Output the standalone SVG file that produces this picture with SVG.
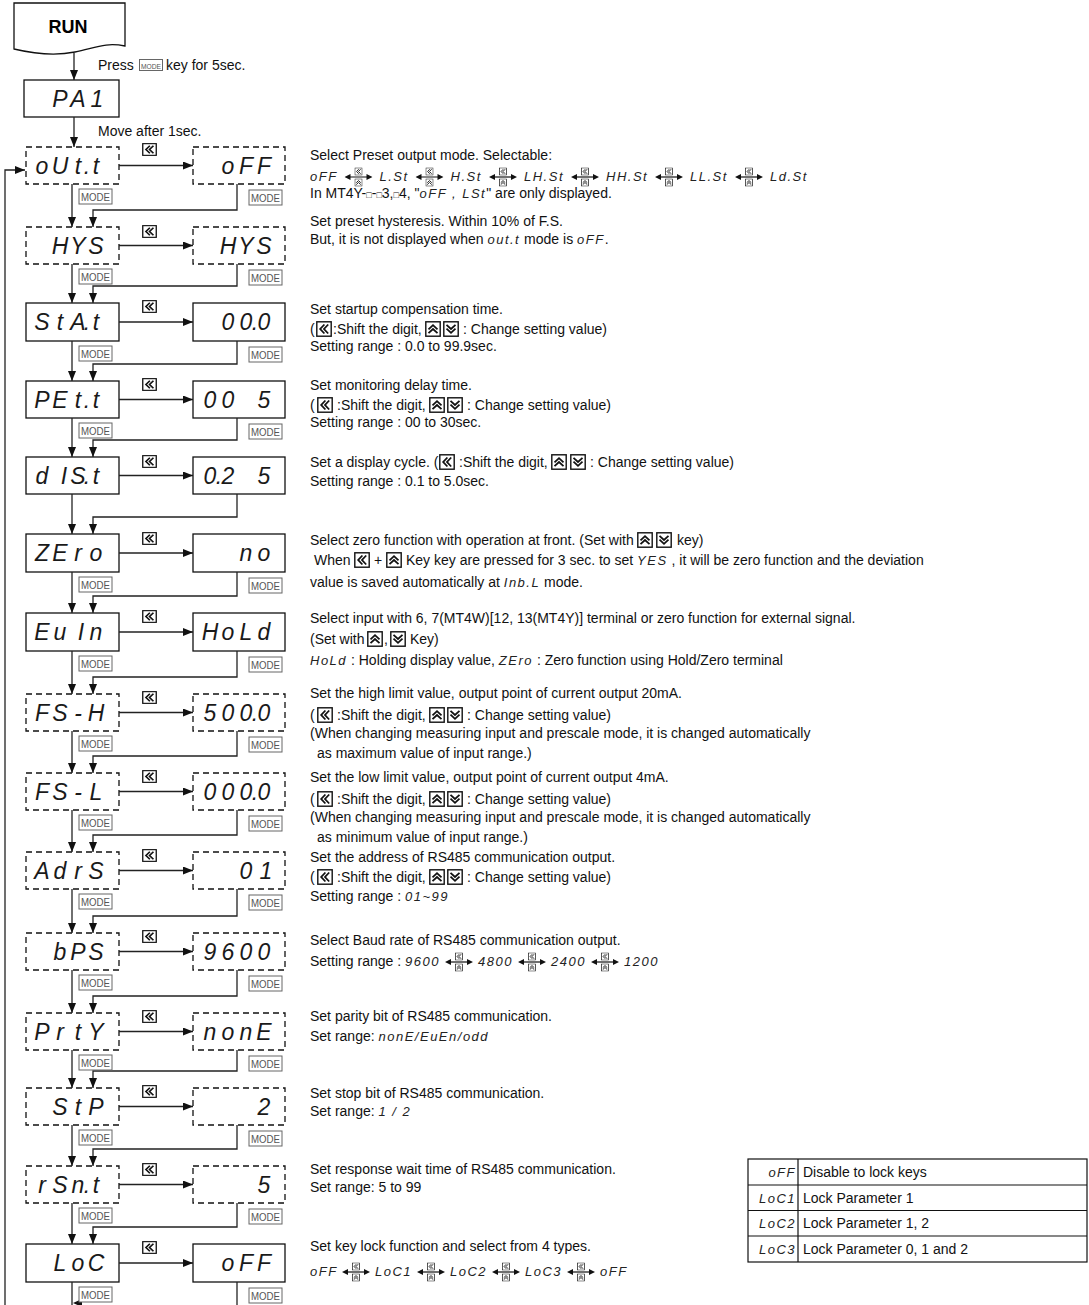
<svg xmlns="http://www.w3.org/2000/svg" width="1089" height="1305" viewBox="0 0 1089 1305">
<style>
.t{font-family:"Liberation Sans",Arial,sans-serif;font-size:14px;fill:#111}
.s{font-family:"Liberation Sans",Arial,sans-serif;font-style:italic;font-size:13px;letter-spacing:1.5px;fill:#222}
.sq{font-size:9px}
.d{font-family:"Liberation Sans",Arial,sans-serif;font-style:italic;font-size:23px;fill:#1a1a1a;text-anchor:middle}
.bx{fill:#fff;stroke:#111;stroke-width:1.3}
.dx{fill:#fff;stroke:#111;stroke-width:1.3;stroke-dasharray:6 4}
.mk rect{fill:#fff;stroke:#666;stroke-width:1}
.mk text{font-family:"Liberation Sans Narrow","Liberation Sans",Arial,sans-serif;font-size:10px;fill:#555;text-anchor:middle}
.cn{fill:none;stroke:#222;stroke-width:1.3}
.tb{fill:none;stroke:#111;stroke-width:1.2}
</style>
<defs>
<marker id="ah" viewBox="0 0 10 8" refX="10" refY="4" markerWidth="10" markerHeight="8" markerUnits="userSpaceOnUse" orient="auto"><path d="M0,0 L10,4 L0,8 Z" fill="#111"/></marker>
<symbol id="kL" viewBox="0 0 16 16" preserveAspectRatio="none"><rect x="0.8" y="0.8" width="14.4" height="14.4" fill="#fff" stroke="#111" stroke-width="1.4"/><path d="M8.4 3.5 L4.2 8 L8.4 12.5 M12.2 3.5 L8 8 L12.2 12.5" fill="none" stroke="#111" stroke-width="1.8"/></symbol>
<symbol id="kU" viewBox="0 0 16 16" preserveAspectRatio="none"><rect x="0.8" y="0.8" width="14.4" height="14.4" fill="#fff" stroke="#111" stroke-width="1.4"/><path d="M3.5 8.4 L8 4.2 L12.5 8.4 M3.5 12.2 L8 8 L12.5 12.2" fill="none" stroke="#111" stroke-width="1.8"/></symbol>
<symbol id="kD" viewBox="0 0 16 16" preserveAspectRatio="none"><rect x="0.8" y="0.8" width="14.4" height="14.4" fill="#fff" stroke="#111" stroke-width="1.4"/><path d="M3.5 3.8 L8 8 L12.5 3.8 M3.5 7.6 L8 11.8 L12.5 7.6" fill="none" stroke="#111" stroke-width="1.8"/></symbol>
<symbol id="sw" viewBox="0 0 28 20"><path d="M5 10 H23" stroke="#111" stroke-width="1.2"/><path d="M0 10 L6 7 L6 13 Z M28 10 L22 7 L22 13 Z" fill="#111"/><use href="#kL" x="10" y="0.5" width="8" height="8"/><use href="#kU" x="10" y="11.5" width="8" height="8"/></symbol>
</defs>
<rect width="1089" height="1305" fill="#fff"/>

<g id="n-run"><path class="bx" d="M14,3 H125 V46 C105,42 95,48 75,52 C55,56 35,54 14,49 Z"/><text x="68" y="33" style="font-family:'Liberation Sans',Arial,sans-serif;font-size:18px;font-weight:bold;text-anchor:middle">RUN</text></g>
<g id="n-pa1"><rect class="bx" x="24" y="80" width="95" height="37"/><text class="d" x="60 78 97" y="107">PA1</text></g>

<g id="n-outt"><rect class="dx" x="26" y="147" width="93" height="37"/><text class="d" x="42 60 78 87 96" y="174">oUt.t</text></g>
<g id="n-outt-v"><rect class="dx" x="193" y="147" width="92" height="37"/><text class="d" x="228 246 264" y="174">oFF</text></g>
<g id="n-hys"><rect class="dx" x="26" y="227" width="93" height="37"/><text class="d" x="60 78 96" y="254">HYS</text></g>
<g id="n-hys-v"><rect class="dx" x="193" y="227" width="92" height="37"/><text class="d" x="228 246 264" y="254">HYS</text></g>
<g id="n-stat"><rect class="bx" x="26" y="303" width="93" height="38"/><text class="d" x="42 60 78 87 96" y="330">StA.t</text></g>
<g id="n-stat-v"><rect class="bx" x="193" y="303" width="92" height="38"/><text class="d" x="228 246 255 264" y="330">00.0</text></g>
<g id="n-pett"><rect class="bx" x="26" y="381" width="93" height="37"/><text class="d" x="42 60 78 87 96" y="408">PEt.t</text></g>
<g id="n-pett-v"><rect class="bx" x="193" y="381" width="92" height="37"/><text class="d" x="210 228 246 264" y="408">00 5</text></g>
<g id="n-dist"><rect class="bx" x="26" y="457" width="93" height="37"/><text class="d" x="42 52 64 78 87 96" y="484">d IS.t</text></g>
<g id="n-dist-v"><rect class="bx" x="193" y="457" width="92" height="37"/><text class="d" x="210 219 228 246 264" y="484">0.2 5</text></g>
<g id="n-zero"><rect class="bx" x="26" y="534" width="93" height="38"/><text class="d" x="42 60 78 96" y="561">ZEro</text></g>
<g id="n-zero-v"><rect class="bx" x="193" y="534" width="92" height="38"/><text class="d" x="246 264" y="561">no</text></g>
<g id="n-euin"><rect class="bx" x="26" y="613" width="93" height="38"/><text class="d" x="42 60 70 81 96" y="640">Eu In</text></g>
<g id="n-euin-v"><rect class="bx" x="193" y="613" width="92" height="38"/><text class="d" x="210 228 246 264" y="640">HoLd</text></g>
<g id="n-fsh"><rect class="dx" x="26" y="694" width="93" height="37"/><text class="d" x="42 60 78 96" y="721">FS-H</text></g>
<g id="n-fsh-v"><rect class="dx" x="193" y="694" width="92" height="37"/><text class="d" x="210 228 246 255 264" y="721">500.0</text></g>
<g id="n-fsl"><rect class="dx" x="26" y="773" width="93" height="37"/><text class="d" x="42 60 78 96" y="800">FS-L</text></g>
<g id="n-fsl-v"><rect class="dx" x="193" y="773" width="92" height="37"/><text class="d" x="210 228 246 255 264" y="800">000.0</text></g>
<g id="n-adrs"><rect class="dx" x="26" y="852" width="93" height="37"/><text class="d" x="42 60 78 96" y="879">AdrS</text></g>
<g id="n-adrs-v"><rect class="dx" x="193" y="852" width="92" height="37"/><text class="d" x="246 266" y="879">01</text></g>
<g id="n-bps"><rect class="dx" x="26" y="933" width="93" height="37"/><text class="d" x="60 78 96" y="960">bPS</text></g>
<g id="n-bps-v"><rect class="dx" x="193" y="933" width="92" height="37"/><text class="d" x="210 228 246 264" y="960">9600</text></g>
<g id="n-prty"><rect class="dx" x="26" y="1013" width="93" height="37"/><text class="d" x="42 60 78 96" y="1040">PrtY</text></g>
<g id="n-prty-v"><rect class="dx" x="193" y="1013" width="92" height="37"/><text class="d" x="210 228 246 264" y="1040">nonE</text></g>
<g id="n-stp"><rect class="dx" x="26" y="1088" width="93" height="37"/><text class="d" x="60 78 96" y="1115">StP</text></g>
<g id="n-stp-v"><rect class="dx" x="193" y="1088" width="92" height="37"/><text class="d" x="264" y="1115">2</text></g>
<g id="n-rsnt"><rect class="dx" x="26" y="1166" width="93" height="37"/><text class="d" x="42 60 78 87 96" y="1193">rSn.t</text></g>
<g id="n-rsnt-v"><rect class="dx" x="193" y="1166" width="92" height="37"/><text class="d" x="264" y="1193">5</text></g>
<g id="n-loc"><rect class="bx" x="26" y="1244" width="93" height="38"/><text class="d" x="60 78 96" y="1271">LoC</text></g>
<g id="n-loc-v"><rect class="bx" x="193" y="1244" width="92" height="38"/><text class="d" x="228 246 264" y="1271">oFF</text></g>

<g id="connectors">
<path class="cn" d="M74,53 V80" marker-end="url(#ah)"/>
<path class="cn" d="M74,117 V147" marker-end="url(#ah)"/>
<path class="cn" d="M5,1305 V170 H25" marker-end="url(#ah)"/>
<path class="cn" d="M119,165.5 H193" marker-end="url(#ah)"/>
<path class="cn" d="M119,245.5 H193" marker-end="url(#ah)"/>
<path class="cn" d="M119,322 H193" marker-end="url(#ah)"/>
<path class="cn" d="M119,399.5 H193" marker-end="url(#ah)"/>
<path class="cn" d="M119,475.5 H193" marker-end="url(#ah)"/>
<path class="cn" d="M119,553 H193" marker-end="url(#ah)"/>
<path class="cn" d="M119,632 H193" marker-end="url(#ah)"/>
<path class="cn" d="M119,712.5 H193" marker-end="url(#ah)"/>
<path class="cn" d="M119,791.5 H193" marker-end="url(#ah)"/>
<path class="cn" d="M119,870.5 H193" marker-end="url(#ah)"/>
<path class="cn" d="M119,951.5 H193" marker-end="url(#ah)"/>
<path class="cn" d="M119,1031.5 H193" marker-end="url(#ah)"/>
<path class="cn" d="M119,1106.5 H193" marker-end="url(#ah)"/>
<path class="cn" d="M119,1184.5 H193" marker-end="url(#ah)"/>
<path class="cn" d="M119,1263 H193" marker-end="url(#ah)"/>
<path class="cn" d="M72,184 V227" marker-end="url(#ah)"/>
<path class="cn" d="M72,264 V303" marker-end="url(#ah)"/>
<path class="cn" d="M72,341 V381" marker-end="url(#ah)"/>
<path class="cn" d="M72,418 V457" marker-end="url(#ah)"/>
<path class="cn" d="M72,494 V534" marker-end="url(#ah)"/>
<path class="cn" d="M72,572 V613" marker-end="url(#ah)"/>
<path class="cn" d="M72,651 V694" marker-end="url(#ah)"/>
<path class="cn" d="M72,731 V773" marker-end="url(#ah)"/>
<path class="cn" d="M72,810 V852" marker-end="url(#ah)"/>
<path class="cn" d="M72,889 V933" marker-end="url(#ah)"/>
<path class="cn" d="M72,970 V1013" marker-end="url(#ah)"/>
<path class="cn" d="M72,1050 V1088" marker-end="url(#ah)"/>
<path class="cn" d="M72,1125 V1166" marker-end="url(#ah)"/>
<path class="cn" d="M72,1203 V1244" marker-end="url(#ah)"/>
<path class="cn" d="M237,184 V210 H93 V227" marker-end="url(#ah)"/>
<path class="cn" d="M237,264 V286 H93 V303" marker-end="url(#ah)"/>
<path class="cn" d="M237,341 V364 H93 V381" marker-end="url(#ah)"/>
<path class="cn" d="M237,418 V440 H93 V457" marker-end="url(#ah)"/>
<path class="cn" d="M237,494 V517 H93 V534" marker-end="url(#ah)"/>
<path class="cn" d="M237,572 V596 H93 V613" marker-end="url(#ah)"/>
<path class="cn" d="M237,651 V677 H93 V694" marker-end="url(#ah)"/>
<path class="cn" d="M237,731 V756 H93 V773" marker-end="url(#ah)"/>
<path class="cn" d="M237,810 V835 H93 V852" marker-end="url(#ah)"/>
<path class="cn" d="M237,889 V916 H93 V933" marker-end="url(#ah)"/>
<path class="cn" d="M237,970 V996 H93 V1013" marker-end="url(#ah)"/>
<path class="cn" d="M237,1050 V1071 H93 V1088" marker-end="url(#ah)"/>
<path class="cn" d="M237,1125 V1149 H93 V1166" marker-end="url(#ah)"/>
<path class="cn" d="M237,1203 V1227 H93 V1244" marker-end="url(#ah)"/>
<path class="cn" d="M72,1282 V1305"/>
<path class="cn" d="M237,1282 V1305"/>
<path d="M73,1303 L82,1299 L82,1307 Z" fill="#111"/>
</g>

<g id="shift-keys">
<use href="#kL" x="142" y="143" width="15" height="13"/>
<use href="#kL" x="142" y="225" width="15" height="13"/>
<use href="#kL" x="142" y="300" width="15" height="13"/>
<use href="#kL" x="142" y="378" width="15" height="13"/>
<use href="#kL" x="142" y="455" width="15" height="13"/>
<use href="#kL" x="142" y="532" width="15" height="13"/>
<use href="#kL" x="142" y="610" width="15" height="13"/>
<use href="#kL" x="142" y="691" width="15" height="13"/>
<use href="#kL" x="142" y="770" width="15" height="13"/>
<use href="#kL" x="142" y="849" width="15" height="13"/>
<use href="#kL" x="142" y="930" width="15" height="13"/>
<use href="#kL" x="142" y="1010" width="15" height="13"/>
<use href="#kL" x="142" y="1085" width="15" height="13"/>
<use href="#kL" x="142" y="1163" width="15" height="13"/>
<use href="#kL" x="142" y="1241" width="15" height="13"/>
</g>

<g id="mode-keys" class="mk">
<rect x="139.5" y="59.5" width="23" height="11"/><text x="151" y="68.5" style="font-size:8px" textLength="20" lengthAdjust="spacingAndGlyphs">MODE</text>
<rect x="79" y="189" width="33" height="15"/><text x="95.5" y="200.5" textLength="29" lengthAdjust="spacingAndGlyphs">MODE</text>
<rect x="249" y="190" width="33" height="15"/><text x="265.5" y="201.5" textLength="29" lengthAdjust="spacingAndGlyphs">MODE</text>
<rect x="79" y="269" width="33" height="15"/><text x="95.5" y="280.5" textLength="29" lengthAdjust="spacingAndGlyphs">MODE</text>
<rect x="249" y="270" width="33" height="15"/><text x="265.5" y="281.5" textLength="29" lengthAdjust="spacingAndGlyphs">MODE</text>
<rect x="79" y="346" width="33" height="15"/><text x="95.5" y="357.5" textLength="29" lengthAdjust="spacingAndGlyphs">MODE</text>
<rect x="249" y="347" width="33" height="15"/><text x="265.5" y="358.5" textLength="29" lengthAdjust="spacingAndGlyphs">MODE</text>
<rect x="79" y="423" width="33" height="15"/><text x="95.5" y="434.5" textLength="29" lengthAdjust="spacingAndGlyphs">MODE</text>
<rect x="249" y="424" width="33" height="15"/><text x="265.5" y="435.5" textLength="29" lengthAdjust="spacingAndGlyphs">MODE</text>
<rect x="79" y="577" width="33" height="15"/><text x="95.5" y="588.5" textLength="29" lengthAdjust="spacingAndGlyphs">MODE</text>
<rect x="249" y="578" width="33" height="15"/><text x="265.5" y="589.5" textLength="29" lengthAdjust="spacingAndGlyphs">MODE</text>
<rect x="79" y="656" width="33" height="15"/><text x="95.5" y="667.5" textLength="29" lengthAdjust="spacingAndGlyphs">MODE</text>
<rect x="249" y="657" width="33" height="15"/><text x="265.5" y="668.5" textLength="29" lengthAdjust="spacingAndGlyphs">MODE</text>
<rect x="79" y="736" width="33" height="15"/><text x="95.5" y="747.5" textLength="29" lengthAdjust="spacingAndGlyphs">MODE</text>
<rect x="249" y="737" width="33" height="15"/><text x="265.5" y="748.5" textLength="29" lengthAdjust="spacingAndGlyphs">MODE</text>
<rect x="79" y="815" width="33" height="15"/><text x="95.5" y="826.5" textLength="29" lengthAdjust="spacingAndGlyphs">MODE</text>
<rect x="249" y="816" width="33" height="15"/><text x="265.5" y="827.5" textLength="29" lengthAdjust="spacingAndGlyphs">MODE</text>
<rect x="79" y="894" width="33" height="15"/><text x="95.5" y="905.5" textLength="29" lengthAdjust="spacingAndGlyphs">MODE</text>
<rect x="249" y="895" width="33" height="15"/><text x="265.5" y="906.5" textLength="29" lengthAdjust="spacingAndGlyphs">MODE</text>
<rect x="79" y="975" width="33" height="15"/><text x="95.5" y="986.5" textLength="29" lengthAdjust="spacingAndGlyphs">MODE</text>
<rect x="249" y="976" width="33" height="15"/><text x="265.5" y="987.5" textLength="29" lengthAdjust="spacingAndGlyphs">MODE</text>
<rect x="79" y="1055" width="33" height="15"/><text x="95.5" y="1066.5" textLength="29" lengthAdjust="spacingAndGlyphs">MODE</text>
<rect x="249" y="1056" width="33" height="15"/><text x="265.5" y="1067.5" textLength="29" lengthAdjust="spacingAndGlyphs">MODE</text>
<rect x="79" y="1130" width="33" height="15"/><text x="95.5" y="1141.5" textLength="29" lengthAdjust="spacingAndGlyphs">MODE</text>
<rect x="249" y="1131" width="33" height="15"/><text x="265.5" y="1142.5" textLength="29" lengthAdjust="spacingAndGlyphs">MODE</text>
<rect x="79" y="1208" width="33" height="15"/><text x="95.5" y="1219.5" textLength="29" lengthAdjust="spacingAndGlyphs">MODE</text>
<rect x="249" y="1209" width="33" height="15"/><text x="265.5" y="1220.5" textLength="29" lengthAdjust="spacingAndGlyphs">MODE</text>
<rect x="79" y="1287" width="33" height="15"/><text x="95.5" y="1298.5" textLength="29" lengthAdjust="spacingAndGlyphs">MODE</text>
<rect x="249" y="1288" width="33" height="15"/><text x="265.5" y="1299.5" textLength="29" lengthAdjust="spacingAndGlyphs">MODE</text>
</g>

<g id="notes">
<text class="t" x="98" y="70">Press</text>
<text class="t" x="166" y="70">key for 5sec.</text>
<text class="t" x="98" y="136">Move after 1sec.</text>

<text class="t" x="310" y="160">Select Preset output mode. Selectable:</text>
<text class="s" x="310" y="181">oFF</text><use href="#sw" x="344.5" y="167" width="28" height="20"/>
<text class="s" x="379.5" y="181">L.St</text><use href="#sw" x="415.5" y="167" width="28" height="20"/>
<text class="s" x="450.5" y="181">H.St</text><use href="#sw" x="489" y="167" width="28" height="20"/>
<text class="s" x="524" y="181">LH.St</text><use href="#sw" x="571" y="167" width="28" height="20"/>
<text class="s" x="606" y="181">HH.St</text><use href="#sw" x="655" y="167" width="28" height="20"/>
<text class="s" x="690" y="181">LL.St</text><use href="#sw" x="735" y="167" width="28" height="20"/>
<text class="s" x="770" y="181">Ld.St</text>
<text class="t" x="310" y="198">In MT4Y-<tspan class="sq">□</tspan>-<tspan class="sq">□</tspan>3,<tspan class="sq">□</tspan>4, "<tspan class="s">oFF , LSt</tspan>" are only displayed.</text>

<text class="t" x="310" y="226">Set preset hysteresis. Within 10% of F.S.</text>
<text class="t" x="310" y="244">But, it is not displayed when <tspan class="s">out.t</tspan> mode is <tspan class="s">oFF</tspan>.</text>

<text class="t" x="310" y="314">Set startup compensation time.</text>
<text class="t" x="310" y="334">(</text><use href="#kL" x="316" y="321" width="16" height="16"/>
<text class="t" x="333" y="334">:Shift the digit,</text><use href="#kU" x="425" y="321" width="16" height="16"/><use href="#kD" x="443" y="321" width="16" height="16"/>
<text class="t" x="463" y="334">: Change setting value)</text>
<text class="t" x="310" y="351">Setting range : 0.0 to 99.9sec.</text>

<text class="t" x="310" y="390">Set monitoring delay time.</text>
<text class="t" x="310" y="410">(</text><use href="#kL" x="317" y="397" width="16" height="16"/>
<text class="t" x="337" y="410">:Shift the digit,</text><use href="#kU" x="429" y="397" width="16" height="16"/><use href="#kD" x="447" y="397" width="16" height="16"/>
<text class="t" x="467" y="410">: Change setting value)</text>
<text class="t" x="310" y="427">Setting range : 00 to 30sec.</text>

<text class="t" x="310" y="467">Set a display cycle. (</text><use href="#kL" x="439" y="454" width="16" height="16"/>
<text class="t" x="459" y="467">:Shift the digit,</text><use href="#kU" x="551" y="454" width="16" height="16"/><use href="#kD" x="570" y="454" width="16" height="16"/>
<text class="t" x="590" y="467">: Change setting value)</text>
<text class="t" x="310" y="486">Setting range : 0.1 to 5.0sec.</text>

<text class="t" x="310" y="545">Select zero function with operation at front. (Set with</text><use href="#kU" x="637" y="532" width="16" height="16"/><use href="#kD" x="656" y="532" width="16" height="16"/>
<text class="t" x="677" y="545">key)</text>
<text class="t" x="314" y="565">When</text><use href="#kL" x="354" y="552" width="16" height="16"/>
<text class="t" x="374" y="565">+</text><use href="#kU" x="386" y="552" width="16" height="16"/>
<text class="t" x="406" y="565">Key key are pressed for 3 sec. to set <tspan class="s">YES</tspan> , it will be zero function and the deviation</text>
<text class="t" x="310" y="587">value is saved automatically at <tspan class="s">Inb.L</tspan> mode.</text>

<text class="t" x="310" y="623">Select input with 6, 7(MT4W)[12, 13(MT4Y)] terminal or zero function for external signal.</text>
<text class="t" x="310" y="644">(Set with</text><use href="#kU" x="367" y="631" width="16" height="16"/>
<text class="t" x="384" y="644">,</text><use href="#kD" x="390" y="631" width="16" height="16"/>
<text class="t" x="410" y="644">Key)</text>
<text class="t" x="310" y="665"><tspan class="s">HoLd</tspan> : Holding display value, <tspan class="s">ZEro</tspan> : Zero function using Hold/Zero terminal</text>

<text class="t" x="310" y="698">Set the high limit value, output point of current output 20mA.</text>
<text class="t" x="310" y="720">(</text><use href="#kL" x="317" y="707" width="16" height="16"/>
<text class="t" x="337" y="720">:Shift the digit,</text><use href="#kU" x="429" y="707" width="16" height="16"/><use href="#kD" x="447" y="707" width="16" height="16"/>
<text class="t" x="467" y="720">: Change setting value)</text>
<text class="t" x="310" y="738">(When changing measuring input and prescale mode, it is changed automatically</text>
<text class="t" x="317" y="758">as maximum value of input range.)</text>

<text class="t" x="310" y="782">Set the low limit value, output point of current output 4mA.</text>
<text class="t" x="310" y="804">(</text><use href="#kL" x="317" y="791" width="16" height="16"/>
<text class="t" x="337" y="804">:Shift the digit,</text><use href="#kU" x="429" y="791" width="16" height="16"/><use href="#kD" x="447" y="791" width="16" height="16"/>
<text class="t" x="467" y="804">: Change setting value)</text>
<text class="t" x="310" y="822">(When changing measuring input and prescale mode, it is changed automatically</text>
<text class="t" x="317" y="842">as minimum value of input range.)</text>

<text class="t" x="310" y="862">Set the address of RS485 communication output.</text>
<text class="t" x="310" y="882">(</text><use href="#kL" x="317" y="869" width="16" height="16"/>
<text class="t" x="337" y="882">:Shift the digit,</text><use href="#kU" x="429" y="869" width="16" height="16"/><use href="#kD" x="447" y="869" width="16" height="16"/>
<text class="t" x="467" y="882">: Change setting value)</text>
<text class="t" x="310" y="901">Setting range : <tspan class="s">01~99</tspan></text>

<text class="t" x="310" y="945">Select Baud rate of RS485 communication output.</text>
<text class="t" x="310" y="966">Setting range :</text>
<text class="s" x="405" y="966">9600</text><use href="#sw" x="445" y="952" width="28" height="20"/>
<text class="s" x="478" y="966">4800</text><use href="#sw" x="518" y="952" width="28" height="20"/>
<text class="s" x="551" y="966">2400</text><use href="#sw" x="591" y="952" width="28" height="20"/>
<text class="s" x="624" y="966">1200</text>

<text class="t" x="310" y="1021">Set parity bit of RS485 communication.</text>
<text class="t" x="310" y="1041">Set range: <tspan class="s">nonE/EuEn/odd</tspan></text>

<text class="t" x="310" y="1098">Set stop bit of RS485 communication.</text>
<text class="t" x="310" y="1116">Set range: <tspan class="s">1 / 2</tspan></text>

<text class="t" x="310" y="1174">Set response wait time of RS485 communication.</text>
<text class="t" x="310" y="1192">Set range: 5 to 99</text>

<text class="t" x="310" y="1251">Set key lock function and select from 4 types.</text>
<text class="s" x="310" y="1276">oFF</text><use href="#sw" x="342" y="1262" width="28" height="20"/>
<text class="s" x="375" y="1276">LoC1</text><use href="#sw" x="417" y="1262" width="28" height="20"/>
<text class="s" x="450" y="1276">LoC2</text><use href="#sw" x="492" y="1262" width="28" height="20"/>
<text class="s" x="525" y="1276">LoC3</text><use href="#sw" x="567" y="1262" width="28" height="20"/>
<text class="s" x="600" y="1276">oFF</text>
</g>

<g id="lock-table">
<rect class="tb" x="748" y="1159" width="339" height="103"/>
<path class="tb" d="M748,1185 H1087 M748,1210.5 H1087 M748,1236 H1087 M798,1159 V1262"/>
<text class="s" x="796" y="1177" text-anchor="end">oFF</text><text class="t" x="803" y="1177">Disable to lock keys</text>
<text class="s" x="796" y="1203" text-anchor="end">LoC1</text><text class="t" x="803" y="1203">Lock Parameter 1</text>
<text class="s" x="796" y="1228" text-anchor="end">LoC2</text><text class="t" x="803" y="1228">Lock Parameter 1, 2</text>
<text class="s" x="796" y="1254" text-anchor="end">LoC3</text><text class="t" x="803" y="1254">Lock Parameter 0, 1 and 2</text>
</g>
</svg>
